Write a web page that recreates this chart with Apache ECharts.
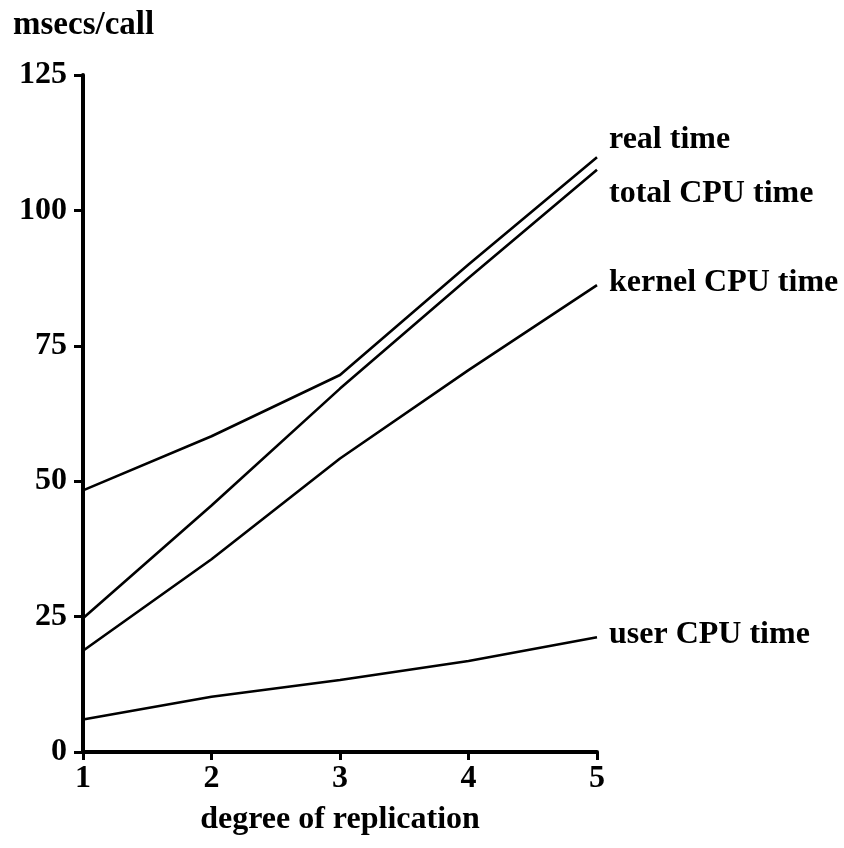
<!DOCTYPE html>
<html>
<head>
<meta charset="utf-8">
<script src="https://cdn.jsdelivr.net/npm/echarts@6/dist/echarts.min.js"></script>
<style>
html,body{margin:0;padding:0;background:#fff;}
#chart{width:844px;height:848px;}
</style>
</head>
<body>
<div id="chart"></div>
<script>
var xValues = [1, 2, 3, 4, 5];
var realTime = [48.3, 58.3, 69.6, 90, 109.8];
var totalCpu = [24.7, 45.5, 67.1, 87.5, 107.5];
var kernelCpu = [18.7, 35.6, 54.2, 70.5, 86.2];
var userCpu = [6.0, 10.2, 13.3, 16.8, 21.2];
var seriesNames = ['real time', 'total CPU time', 'kernel CPU time', 'user CPU time'];
var yTicks = [0, 25, 50, 75, 100, 125];

var FONT = '"Liberation Serif", "DejaVu Serif", serif';
var chart = echarts.init(document.getElementById('chart'), null, {renderer: 'canvas'});

function pairs(arr) { return xValues.map(function (x, i) { return [x, arr[i]]; }); }
var labelOffsets = [[4, -18], [4, 24], [4, -2], [4, -2]];
var allData = [realTime, totalCpu, kernelCpu, userCpu];

chart.setOption({
  animation: false,
  backgroundColor: '#fff',
  title: {
    text: 'msecs/call', left: 8, top: 4,
    textStyle: {fontFamily: FONT, fontWeight: 'bold', fontSize: 33, color: '#000'}
  },
  grid: {left: 83, right: 247, top: 75, bottom: 96},
  xAxis: {
    type: 'value', min: 1, max: 5, interval: 1,
    name: 'degree of replication', nameLocation: 'middle', nameGap: 52,
    nameTextStyle: {fontFamily: FONT, fontWeight: 'bold', fontSize: 32, color: '#000'},
    axisLine: {show: true, lineStyle: {color: '#000', width: 4}},
    axisTick: {show: true, inside: false, length: 8, lineStyle: {color: '#000', width: 3}},
    axisLabel: {margin: 11, fontFamily: FONT, fontWeight: 'bold', fontSize: 32, color: '#000'},
    splitLine: {show: false}
  },
  yAxis: {
    type: 'value', min: yTicks[0], max: yTicks[yTicks.length - 1], interval: 25,
    axisLine: {show: true, lineStyle: {color: '#000', width: 4}},
    axisTick: {show: true, inside: false, length: 9, lineStyle: {color: '#000', width: 3}},
    axisLabel: {margin: 16, padding: [8, 0, 0, 0], fontFamily: FONT, fontWeight: 'bold', fontSize: 32, color: '#000'},
    splitLine: {show: false}
  },
  series: seriesNames.map(function (name, i) {
    return {
      name: name, type: 'line', data: pairs(allData[i]),
      showSymbol: false, symbol: 'none',
      lineStyle: {color: '#000', width: 2.6},
      endLabel: {
        show: true, formatter: name, offset: labelOffsets[i],
        fontFamily: FONT, fontWeight: 'bold', fontSize: 32, color: '#000'
      },
      emphasis: {disabled: true}
    };
  })
});
</script>
</body>
</html>
